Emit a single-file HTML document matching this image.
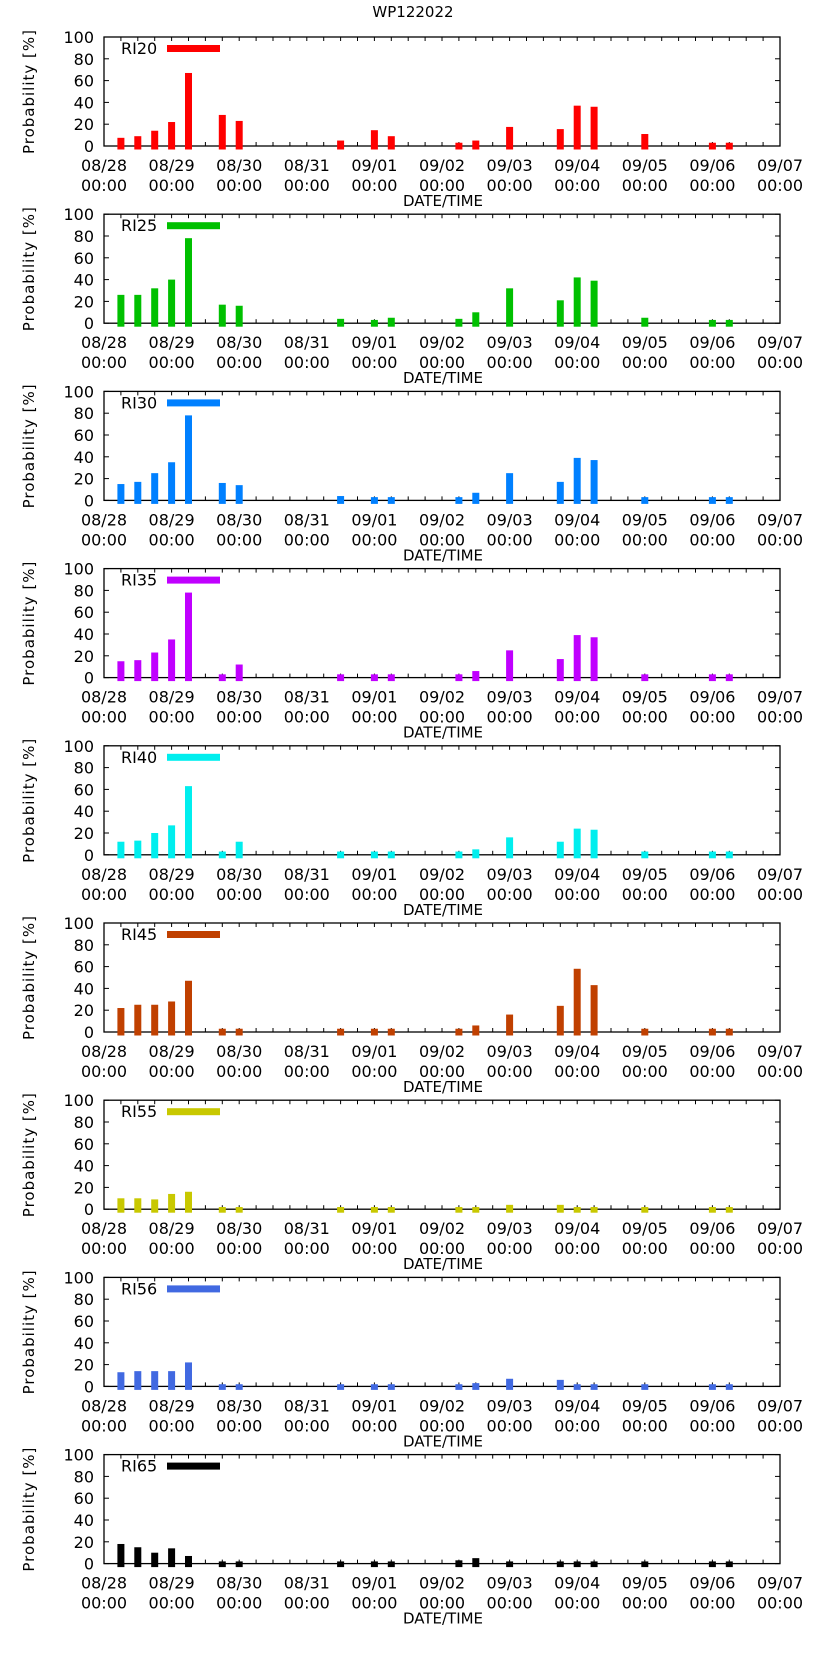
<!DOCTYPE html>
<html><head><meta charset="utf-8"><style>
html,body{margin:0;padding:0;background:#fff;}
svg{display:block;font-family:"DejaVu Sans","Liberation Sans",sans-serif;}
</style></head><body>
<svg id="chart" width="822" height="1653" viewBox="0 0 822 1653" xmlns="http://www.w3.org/2000/svg">
<text x="413" y="17" font-size="15" text-anchor="middle" fill="#000">WP122022</text>
</svg>
<script>
const panelNames = ["RI20","RI25","RI30","RI35","RI40","RI45","RI55","RI56","RI65"];
const panelColors = ["#ff0000","#00c000","#0080ff","#c000ff","#00eeee","#c04000","#c8c800","#4169e1","#000000"];
const slots6h = [1,2,3,4,5,7,8,14,16,17,21,22,24,27,28,29,32,36,37];
const ri20 = [7.5,9,14,22,67,28.5,23,5,14.5,9,3,5,17.5,15.5,37,36,11,3,3];
const ri25 = [26,26,32,40,78,17,16,4,3,5,4,10,32,21,42,39,5,3,3];
const ri30 = [15,17,25,35,78,16,14,4,3,3,3,7,25,17,39,37,3,3,3];
const ri35 = [15,16,23,35,78,3,12,3,3,3,3,6,25,17,39,37,3,3,3];
const ri40 = [12,13,20,27,63,3,12,3,3,3,3,5,16,12,24,23,3,3,3];
const ri45 = [22,25,25,28,47,3,3,3,3,3,3,6,16,24,58,43,3,3,3];
const ri55 = [10,10,9,14,16,2,2,2,2,2,2,2,4,4,2,2,2,2,2];
const ri56 = [13,14,14,14,22,2,2,2,2,2,2,3,7,6,2,2,2,2,2];
const ri65 = [18,15,10,14,7,2,2,2,2,2,3,5,2,2,2,2,2,2,2];
const seriesValues = [ri20,ri25,ri30,ri35,ri40,ri45,ri55,ri56,ri65];
const xTickLabels = ["08/28","08/29","08/30","08/31","09/01","09/02","09/03","09/04","09/05","09/06","09/07"];
const yTickLabels = [0,20,40,60,80,100];

const NS = "http://www.w3.org/2000/svg";
const svg = document.getElementById('chart');
const X0 = 104, X1 = 780, DAYS = 10;
const PH = 109, PITCH = 177.2, TOP0 = 37;
function mk(tag, attrs, parent){const e=document.createElementNS(NS,tag);for(const k in attrs)e.setAttribute(k,attrs[k]);(parent||svg).appendChild(e);return e;}
function xScale(h){return X0 + (X1-X0)*h/(DAYS*24);}

panelNames.forEach((name, p) => {
  const top = TOP0 + p*PITCH, bot = top + PH;
  const yScale = v => bot - PH*v/100;
  const g = mk('g', {});
  
  
  const frame = mk('rect', {x:X0, y:top, width:X1-X0, height:PH, fill:'none', stroke:'#000', 'stroke-width':1.3}, g);
  
  
  for (let h = 6; h < DAYS*24; h += 6) {
    const x = xScale(h);
    mk('line', {x1:x, y1:bot, x2:x, y2:bot-4, stroke:'#000', 'stroke-width':1}, g);
    mk('line', {x1:x, y1:top, x2:x, y2:top+4, stroke:'#000', 'stroke-width':1}, g);
  }
  xTickLabels.forEach((lab, i) => {
    const x = xScale(i*24);
    const t = mk('text', {x:x, y:bot+25, 'font-size':16, 'text-anchor':'middle', fill:'#000'}, g);
    
    
    mk('tspan', {x:x}, t).textContent = lab;
    mk('tspan', {x:x, dy:20}, t).textContent = '00:00';
  });
  yTickLabels.forEach(v => {
    const y = yScale(v);
    mk('line', {x1:X0, y1:y, x2:X0+5, y2:y, stroke:'#000', 'stroke-width':1}, g);
    mk('line', {x1:X1, y1:y, x2:X1-5, y2:y, stroke:'#000', 'stroke-width':1}, g);
    const t = mk('text', {x:X0-10, y:y+6, 'font-size':16, 'text-anchor':'end', fill:'#000'}, g);
    
    
    t.textContent = v;
  });
  const yt = mk('text', {x:0, y:0, 'font-size':15, 'text-anchor':'middle', 'letter-spacing':'1', fill:'#000', transform:`translate(34 ${top+PH/2}) rotate(-90)`}, g);
  
  
  yt.textContent = 'Probability [%]';
  const xt = mk('text', {x:443, y:bot+60, 'font-size':15, 'text-anchor':'middle', fill:'#000'}, g);
  
  
  xt.textContent = 'DATE/TIME';
  const lt = mk('text', {x:121, y:top+17, 'font-size':16, fill:'#000'}, g);
  
  
  lt.textContent = name;
  const lb = mk('rect', {x:167, y:top+8, width:53, height:7, fill:panelColors[p]}, g);
  
  
  const vals = seriesValues[p];
  slots6h.forEach((s, i) => {
    const xc = xScale(s*6), y = yScale(vals[i]);
    const r = mk('rect', {x:xc-3.5, y:y, width:7, height:(bot+3.5)-y, fill:panelColors[p]}, g);
    
    
  });
});
</script>
</body></html>
